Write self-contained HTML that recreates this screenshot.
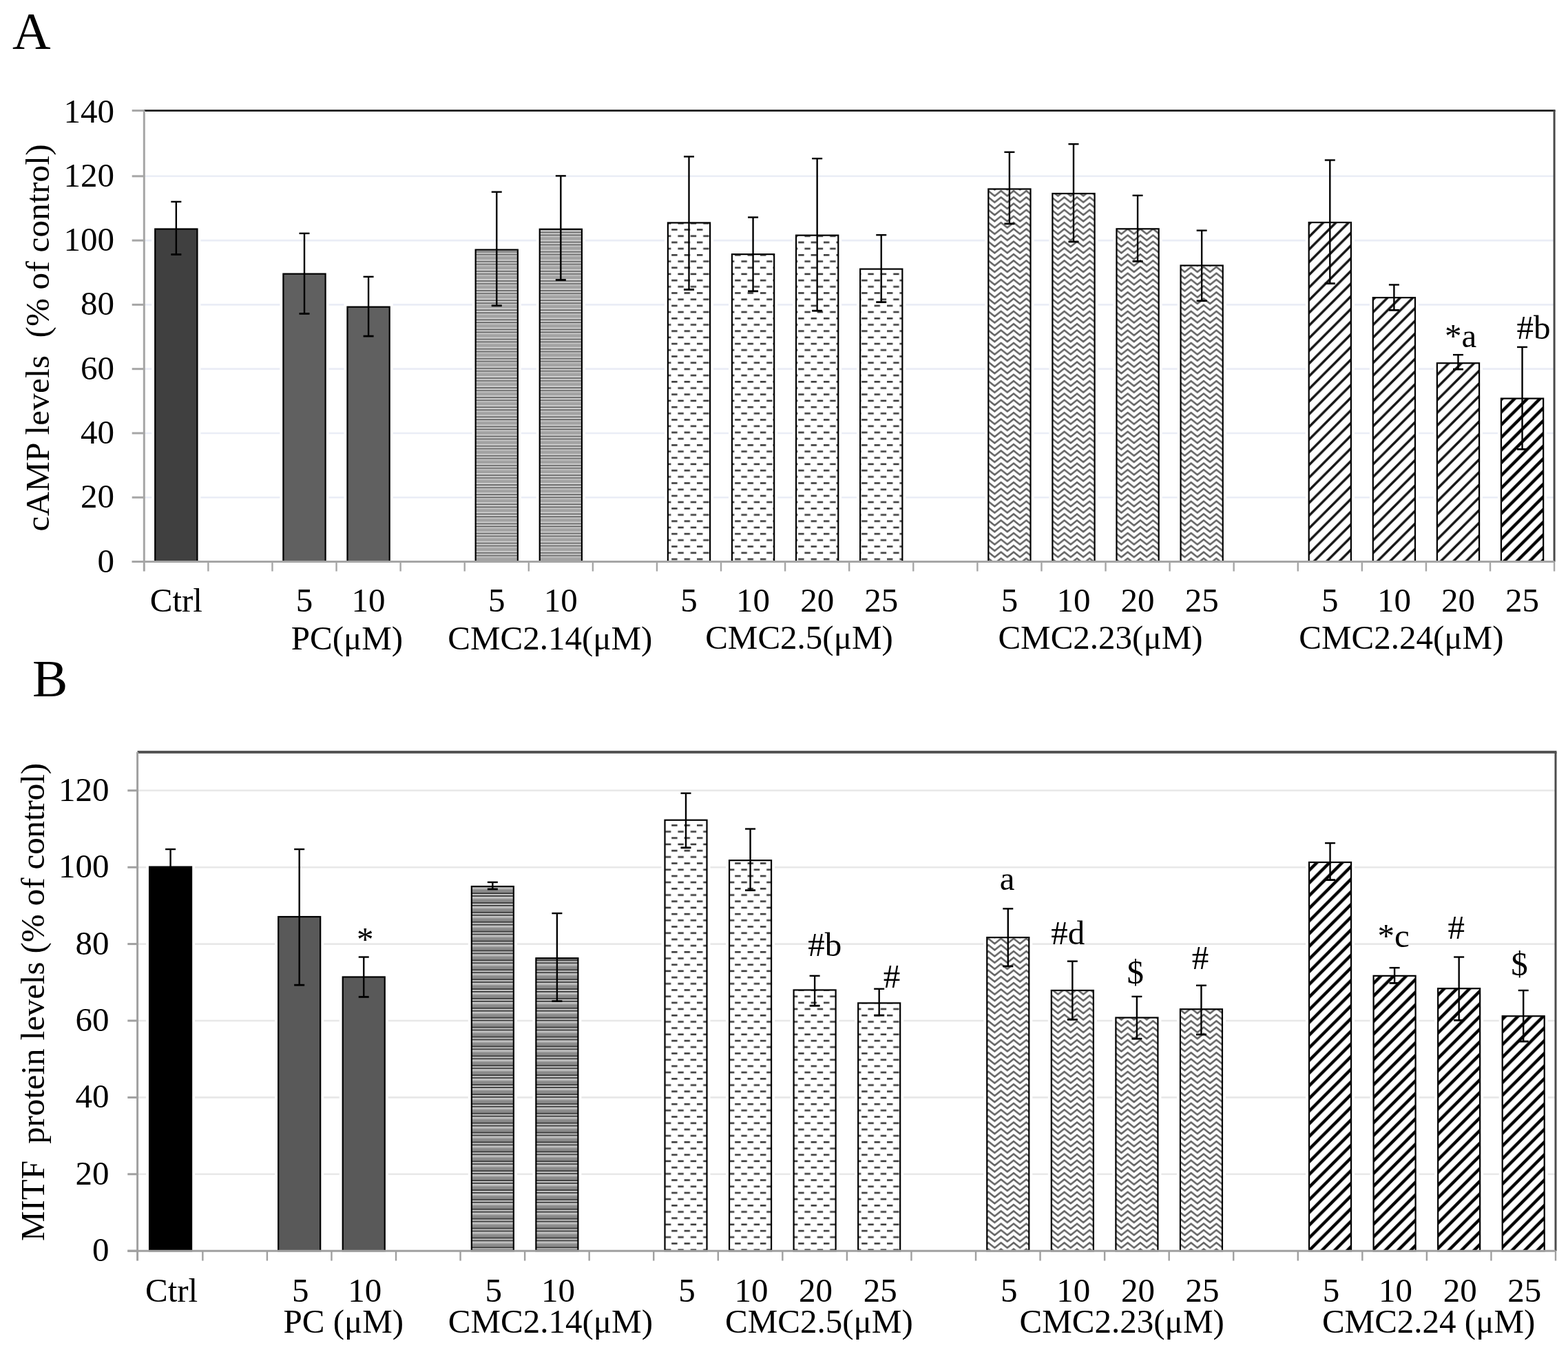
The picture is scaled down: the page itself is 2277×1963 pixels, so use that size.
<!DOCTYPE html><html><head><meta charset="utf-8"><title>cAMP and MITF levels</title>
<style>html,body{margin:0;padding:0;background:#fff;}body{width:2277px;height:1963px;overflow:hidden;}svg{display:block;}text{font-family:"Liberation Serif","Times New Roman",serif;font-size:49px;fill:#000;}</style></head><body>
<svg width="2277" height="1963" viewBox="0 0 2277 1963">
<defs>
<pattern id="hA" patternUnits="userSpaceOnUse" patternTransform="translate(0,-2.9)" width="14.1" height="14.1"><rect width="14.1" height="14.1" fill="#a2a2a2"/><rect y="0" width="14.1" height="0.75" fill="#dcdcdc"/><rect y="13.35" width="14.1" height="0.75" fill="#dcdcdc"/><rect y="1.2" width="14.1" height="1.4" fill="#5e5e5e"/><rect y="3.3" width="14.1" height="1.4" fill="#dcdcdc"/><rect y="5.3" width="14.1" height="1.4" fill="#5e5e5e"/><rect y="6.7" width="14.1" height="2.2" fill="#c0c0c0"/></pattern>
<pattern id="hB" patternUnits="userSpaceOnUse" patternTransform="translate(0,-3.6)" width="13.9" height="13.9"><rect width="13.9" height="13.9" fill="#8a8a8a"/><rect y="0" width="13.9" height="0.8" fill="#d6d6d6"/><rect y="13.1" width="13.9" height="0.8" fill="#d6d6d6"/><rect y="0.8" width="13.9" height="1.6" fill="#b0b0b0"/><rect y="7.2" width="13.9" height="1.5" fill="#2c2c2c"/><rect y="9.1" width="13.9" height="1.6" fill="#d2d2d2"/><rect y="11.1" width="13.9" height="1.4" fill="#2c2c2c"/></pattern>
<pattern id="dash" patternUnits="userSpaceOnUse" width="18.4" height="18.4"><rect width="18.4" height="18.4" fill="#fff"/><rect x="0" y="1" width="8.4" height="2.6" fill="#3c3c3c"/><rect x="9.2" y="10.2" width="8.4" height="2.6" fill="#3c3c3c"/></pattern>
<pattern id="zig" patternUnits="userSpaceOnUse" width="18.4" height="9.2"><rect width="18.4" height="9.2" fill="#fff"/><path d="M-9.2,8.6 L0,1.1 L9.2,8.6 L18.4,1.1 L27.6,8.6 M-9.2,-0.6 L0,-8.1 L9.2,-0.6 L18.4,-8.1 L27.6,-0.6 M-9.2,17.8 L0,10.3 L9.2,17.8 L18.4,10.3 L27.6,17.8" fill="none" stroke="#626262" stroke-width="2.5"/></pattern>
<pattern id="diag" patternUnits="userSpaceOnUse" width="18.4" height="18.4"><rect width="18.4" height="18.4" fill="#fff"/><path d="M-4.6,23 L23,-4.6 M-23,23 L4.6,-4.6 M13.8,23 L41.4,-4.6" stroke="#000" stroke-width="4.4"/></pattern>
<pattern id="diagA" patternUnits="userSpaceOnUse" width="18.4" height="18.4"><rect width="18.4" height="18.4" fill="#fff"/><path d="M-4.6,23 L23,-4.6 M-23,23 L4.6,-4.6 M13.8,23 L41.4,-4.6" stroke="#141414" stroke-width="3.5"/></pattern>
</defs>
<rect width="2277" height="1963" fill="#fff"/>
<text x="18" y="71" style="font-size:77px">A</text>
<text x="47" y="1011" style="font-size:77px">B</text>
<line x1="209.3" y1="722.22" x2="2257.1" y2="722.22" stroke="#eaedf6" stroke-width="2.6"/>
<line x1="209.3" y1="628.94" x2="2257.1" y2="628.94" stroke="#eaedf6" stroke-width="2.6"/>
<line x1="209.3" y1="535.66" x2="2257.1" y2="535.66" stroke="#eaedf6" stroke-width="2.6"/>
<line x1="209.3" y1="442.38" x2="2257.1" y2="442.38" stroke="#eaedf6" stroke-width="2.6"/>
<line x1="209.3" y1="349.1" x2="2257.1" y2="349.1" stroke="#eaedf6" stroke-width="2.6"/>
<line x1="209.3" y1="255.82" x2="2257.1" y2="255.82" stroke="#eaedf6" stroke-width="2.6"/>
<rect x="220.24" y="327.5" width="71.2" height="488" fill="#fff"/>
<rect x="225.24" y="332.5" width="61.2" height="483" fill="#404040" stroke="#000" stroke-width="2.2"/>
<rect x="406.4" y="392.61" width="71.2" height="422.89" fill="#fff"/>
<rect x="411.4" y="397.61" width="61.2" height="417.89" fill="#606060" stroke="#000" stroke-width="2.2"/>
<rect x="499.49" y="440.64" width="71.2" height="374.86" fill="#fff"/>
<rect x="504.49" y="445.64" width="61.2" height="369.86" fill="#606060" stroke="#000" stroke-width="2.2"/>
<rect x="685.65" y="357.63" width="71.2" height="457.87" fill="#fff"/>
<rect x="690.65" y="362.63" width="61.2" height="452.87" fill="url(#hA)" stroke="#000" stroke-width="2.2"/>
<rect x="778.73" y="327.78" width="71.2" height="487.72" fill="#fff"/>
<rect x="783.73" y="332.78" width="61.2" height="482.72" fill="url(#hA)" stroke="#000" stroke-width="2.2"/>
<rect x="964.9" y="318.45" width="71.2" height="497.05" fill="#fff"/>
<rect x="969.9" y="323.45" width="61.2" height="492.05" fill="url(#dash)" stroke="#000" stroke-width="2.2"/>
<rect x="1057.98" y="364.16" width="71.2" height="451.34" fill="#fff"/>
<rect x="1062.98" y="369.16" width="61.2" height="446.34" fill="url(#dash)" stroke="#000" stroke-width="2.2"/>
<rect x="1151.06" y="336.64" width="71.2" height="478.86" fill="#fff"/>
<rect x="1156.06" y="341.64" width="61.2" height="473.86" fill="url(#dash)" stroke="#000" stroke-width="2.2"/>
<rect x="1244.14" y="385.61" width="71.2" height="429.89" fill="#fff"/>
<rect x="1249.14" y="390.61" width="61.2" height="424.89" fill="url(#dash)" stroke="#000" stroke-width="2.2"/>
<rect x="1430.3" y="269.48" width="71.2" height="546.02" fill="#fff"/>
<rect x="1435.3" y="274.48" width="61.2" height="541.02" fill="url(#zig)" stroke="#000" stroke-width="2.2"/>
<rect x="1523.39" y="276.01" width="71.2" height="539.49" fill="#fff"/>
<rect x="1528.39" y="281.01" width="61.2" height="534.49" fill="url(#zig)" stroke="#000" stroke-width="2.2"/>
<rect x="1616.47" y="327.31" width="71.2" height="488.19" fill="#fff"/>
<rect x="1621.47" y="332.31" width="61.2" height="483.19" fill="url(#zig)" stroke="#000" stroke-width="2.2"/>
<rect x="1709.55" y="380.48" width="71.2" height="435.02" fill="#fff"/>
<rect x="1714.55" y="385.48" width="61.2" height="430.02" fill="url(#zig)" stroke="#000" stroke-width="2.2"/>
<rect x="1895.71" y="317.98" width="71.2" height="497.52" fill="#fff"/>
<rect x="1900.71" y="322.98" width="61.2" height="492.52" fill="url(#diagA)" stroke="#000" stroke-width="2.2"/>
<rect x="1988.8" y="427.12" width="71.2" height="388.38" fill="#fff"/>
<rect x="1993.8" y="432.12" width="61.2" height="383.38" fill="url(#diagA)" stroke="#000" stroke-width="2.2"/>
<rect x="2081.88" y="522.26" width="71.2" height="293.24" fill="#fff"/>
<rect x="2086.88" y="527.26" width="61.2" height="288.24" fill="url(#diagA)" stroke="#000" stroke-width="2.2"/>
<rect x="2174.96" y="573.57" width="71.2" height="241.93" fill="#fff"/>
<rect x="2179.96" y="578.57" width="61.2" height="236.93" fill="url(#diag)" stroke="#000" stroke-width="2.2"/>
<line x1="255.84" y1="292.9" x2="255.84" y2="369.48" stroke="#000" stroke-width="2.4"/>
<line x1="248.34" y1="292.9" x2="263.34" y2="292.9" stroke="#000" stroke-width="2.4"/>
<line x1="248.34" y1="369.48" x2="263.34" y2="369.48" stroke="#000" stroke-width="2.8"/>
<line x1="442" y1="338.84" x2="442" y2="455.44" stroke="#000" stroke-width="2.4"/>
<line x1="434.5" y1="338.84" x2="449.5" y2="338.84" stroke="#000" stroke-width="2.4"/>
<line x1="434.5" y1="455.44" x2="449.5" y2="455.44" stroke="#000" stroke-width="2.8"/>
<line x1="535.09" y1="401.8" x2="535.09" y2="488.09" stroke="#000" stroke-width="2.4"/>
<line x1="527.59" y1="401.8" x2="542.59" y2="401.8" stroke="#000" stroke-width="2.4"/>
<line x1="527.59" y1="488.09" x2="542.59" y2="488.09" stroke="#000" stroke-width="2.8"/>
<line x1="721.25" y1="278.67" x2="721.25" y2="443.78" stroke="#000" stroke-width="2.4"/>
<line x1="713.75" y1="278.67" x2="728.75" y2="278.67" stroke="#000" stroke-width="2.4"/>
<line x1="713.75" y1="443.78" x2="728.75" y2="443.78" stroke="#000" stroke-width="2.8"/>
<line x1="814.33" y1="255.35" x2="814.33" y2="406.47" stroke="#000" stroke-width="2.4"/>
<line x1="806.83" y1="255.35" x2="821.83" y2="255.35" stroke="#000" stroke-width="2.4"/>
<line x1="806.83" y1="406.47" x2="821.83" y2="406.47" stroke="#000" stroke-width="2.8"/>
<line x1="1000.5" y1="227.37" x2="1000.5" y2="420.46" stroke="#000" stroke-width="2.4"/>
<line x1="993" y1="227.37" x2="1008" y2="227.37" stroke="#000" stroke-width="2.4"/>
<line x1="993" y1="420.46" x2="1008" y2="420.46" stroke="#000" stroke-width="2.8"/>
<line x1="1093.58" y1="315.52" x2="1093.58" y2="422.79" stroke="#000" stroke-width="2.4"/>
<line x1="1086.08" y1="315.52" x2="1101.08" y2="315.52" stroke="#000" stroke-width="2.4"/>
<line x1="1086.08" y1="422.79" x2="1101.08" y2="422.79" stroke="#000" stroke-width="2.8"/>
<line x1="1186.66" y1="230.17" x2="1186.66" y2="451.24" stroke="#000" stroke-width="2.4"/>
<line x1="1179.16" y1="230.17" x2="1194.16" y2="230.17" stroke="#000" stroke-width="2.4"/>
<line x1="1179.16" y1="451.24" x2="1194.16" y2="451.24" stroke="#000" stroke-width="2.8"/>
<line x1="1279.74" y1="341.17" x2="1279.74" y2="438.65" stroke="#000" stroke-width="2.4"/>
<line x1="1272.24" y1="341.17" x2="1287.24" y2="341.17" stroke="#000" stroke-width="2.4"/>
<line x1="1272.24" y1="438.65" x2="1287.24" y2="438.65" stroke="#000" stroke-width="2.8"/>
<line x1="1465.9" y1="220.84" x2="1465.9" y2="324.85" stroke="#000" stroke-width="2.4"/>
<line x1="1458.4" y1="220.84" x2="1473.4" y2="220.84" stroke="#000" stroke-width="2.4"/>
<line x1="1458.4" y1="324.85" x2="1473.4" y2="324.85" stroke="#000" stroke-width="2.8"/>
<line x1="1558.99" y1="209.18" x2="1558.99" y2="350.97" stroke="#000" stroke-width="2.4"/>
<line x1="1551.49" y1="209.18" x2="1566.49" y2="209.18" stroke="#000" stroke-width="2.4"/>
<line x1="1551.49" y1="350.97" x2="1566.49" y2="350.97" stroke="#000" stroke-width="2.8"/>
<line x1="1652.07" y1="283.8" x2="1652.07" y2="379.42" stroke="#000" stroke-width="2.4"/>
<line x1="1644.57" y1="283.8" x2="1659.57" y2="283.8" stroke="#000" stroke-width="2.4"/>
<line x1="1644.57" y1="379.42" x2="1659.57" y2="379.42" stroke="#000" stroke-width="2.8"/>
<line x1="1745.15" y1="334.64" x2="1745.15" y2="436.78" stroke="#000" stroke-width="2.4"/>
<line x1="1737.65" y1="334.64" x2="1752.65" y2="334.64" stroke="#000" stroke-width="2.4"/>
<line x1="1737.65" y1="436.78" x2="1752.65" y2="436.78" stroke="#000" stroke-width="2.8"/>
<line x1="1931.31" y1="232.5" x2="1931.31" y2="411.6" stroke="#000" stroke-width="2.4"/>
<line x1="1923.81" y1="232.5" x2="1938.81" y2="232.5" stroke="#000" stroke-width="2.4"/>
<line x1="1923.81" y1="411.6" x2="1938.81" y2="411.6" stroke="#000" stroke-width="2.8"/>
<line x1="2024.4" y1="413.46" x2="2024.4" y2="450.31" stroke="#000" stroke-width="2.4"/>
<line x1="2016.9" y1="413.46" x2="2031.9" y2="413.46" stroke="#000" stroke-width="2.4"/>
<line x1="2016.9" y1="450.31" x2="2031.9" y2="450.31" stroke="#000" stroke-width="2.8"/>
<line x1="2117.48" y1="515.14" x2="2117.48" y2="536.13" stroke="#000" stroke-width="2.4"/>
<line x1="2109.98" y1="515.14" x2="2124.98" y2="515.14" stroke="#000" stroke-width="2.4"/>
<line x1="2109.98" y1="536.13" x2="2124.98" y2="536.13" stroke="#000" stroke-width="2.8"/>
<line x1="2210.56" y1="503.94" x2="2210.56" y2="652.26" stroke="#000" stroke-width="2.4"/>
<line x1="2203.06" y1="503.94" x2="2218.06" y2="503.94" stroke="#000" stroke-width="2.4"/>
<line x1="2203.06" y1="652.26" x2="2218.06" y2="652.26" stroke="#000" stroke-width="2.8"/>
<line x1="209.3" y1="160.6" x2="2258.6" y2="160.6" stroke="#1c1c1c" stroke-width="2.6"/>
<line x1="2257.1" y1="160.6" x2="2257.1" y2="815.5" stroke="#4a4a4a" stroke-width="3"/>
<line x1="191.7" y1="815.5" x2="2257.1" y2="815.5" stroke="#a6a6a6" stroke-width="3"/>
<line x1="209.3" y1="160.6" x2="209.3" y2="829.5" stroke="#a6a6a6" stroke-width="3"/>
<line x1="191.7" y1="815.5" x2="209.3" y2="815.5" stroke="#a6a6a6" stroke-width="3"/>
<line x1="191.7" y1="722.22" x2="209.3" y2="722.22" stroke="#a6a6a6" stroke-width="3"/>
<line x1="191.7" y1="628.94" x2="209.3" y2="628.94" stroke="#a6a6a6" stroke-width="3"/>
<line x1="191.7" y1="535.66" x2="209.3" y2="535.66" stroke="#a6a6a6" stroke-width="3"/>
<line x1="191.7" y1="442.38" x2="209.3" y2="442.38" stroke="#a6a6a6" stroke-width="3"/>
<line x1="191.7" y1="349.1" x2="209.3" y2="349.1" stroke="#a6a6a6" stroke-width="3"/>
<line x1="191.7" y1="255.82" x2="209.3" y2="255.82" stroke="#a6a6a6" stroke-width="3"/>
<line x1="191.7" y1="160.6" x2="209.3" y2="160.6" stroke="#a6a6a6" stroke-width="3"/>
<line x1="302.38" y1="815.5" x2="302.38" y2="829.5" stroke="#a6a6a6" stroke-width="2.4"/>
<line x1="395.46" y1="815.5" x2="395.46" y2="829.5" stroke="#a6a6a6" stroke-width="2.4"/>
<line x1="488.55" y1="815.5" x2="488.55" y2="829.5" stroke="#a6a6a6" stroke-width="2.4"/>
<line x1="581.63" y1="815.5" x2="581.63" y2="829.5" stroke="#a6a6a6" stroke-width="2.4"/>
<line x1="674.71" y1="815.5" x2="674.71" y2="829.5" stroke="#a6a6a6" stroke-width="2.4"/>
<line x1="767.79" y1="815.5" x2="767.79" y2="829.5" stroke="#a6a6a6" stroke-width="2.4"/>
<line x1="860.87" y1="815.5" x2="860.87" y2="829.5" stroke="#a6a6a6" stroke-width="2.4"/>
<line x1="953.95" y1="815.5" x2="953.95" y2="829.5" stroke="#a6a6a6" stroke-width="2.4"/>
<line x1="1047.04" y1="815.5" x2="1047.04" y2="829.5" stroke="#a6a6a6" stroke-width="2.4"/>
<line x1="1140.12" y1="815.5" x2="1140.12" y2="829.5" stroke="#a6a6a6" stroke-width="2.4"/>
<line x1="1233.2" y1="815.5" x2="1233.2" y2="829.5" stroke="#a6a6a6" stroke-width="2.4"/>
<line x1="1326.28" y1="815.5" x2="1326.28" y2="829.5" stroke="#a6a6a6" stroke-width="2.4"/>
<line x1="1419.36" y1="815.5" x2="1419.36" y2="829.5" stroke="#a6a6a6" stroke-width="2.4"/>
<line x1="1512.45" y1="815.5" x2="1512.45" y2="829.5" stroke="#a6a6a6" stroke-width="2.4"/>
<line x1="1605.53" y1="815.5" x2="1605.53" y2="829.5" stroke="#a6a6a6" stroke-width="2.4"/>
<line x1="1698.61" y1="815.5" x2="1698.61" y2="829.5" stroke="#a6a6a6" stroke-width="2.4"/>
<line x1="1791.69" y1="815.5" x2="1791.69" y2="829.5" stroke="#a6a6a6" stroke-width="2.4"/>
<line x1="1884.77" y1="815.5" x2="1884.77" y2="829.5" stroke="#a6a6a6" stroke-width="2.4"/>
<line x1="1977.85" y1="815.5" x2="1977.85" y2="829.5" stroke="#a6a6a6" stroke-width="2.4"/>
<line x1="2070.94" y1="815.5" x2="2070.94" y2="829.5" stroke="#a6a6a6" stroke-width="2.4"/>
<line x1="2164.02" y1="815.5" x2="2164.02" y2="829.5" stroke="#a6a6a6" stroke-width="2.4"/>
<line x1="2257.1" y1="815.5" x2="2257.1" y2="829.5" stroke="#a6a6a6" stroke-width="2.4"/>
<text x="166" y="830.5" text-anchor="end">0</text>
<text x="166" y="737.22" text-anchor="end">20</text>
<text x="166" y="643.94" text-anchor="end">40</text>
<text x="166" y="550.66" text-anchor="end">60</text>
<text x="166" y="457.38" text-anchor="end">80</text>
<text x="166" y="364.1" text-anchor="end">100</text>
<text x="166" y="270.82" text-anchor="end">120</text>
<text x="166" y="177.54" text-anchor="end">140</text>
<text x="255.84" y="887.7" text-anchor="middle">Ctrl</text>
<text x="442" y="887.7" text-anchor="middle">5</text>
<text x="535.09" y="887.7" text-anchor="middle">10</text>
<text x="721.25" y="887.7" text-anchor="middle">5</text>
<text x="814.33" y="887.7" text-anchor="middle">10</text>
<text x="1000.5" y="887.7" text-anchor="middle">5</text>
<text x="1093.58" y="887.7" text-anchor="middle">10</text>
<text x="1186.66" y="887.7" text-anchor="middle">20</text>
<text x="1279.74" y="887.7" text-anchor="middle">25</text>
<text x="1465.9" y="887.7" text-anchor="middle">5</text>
<text x="1558.99" y="887.7" text-anchor="middle">10</text>
<text x="1652.07" y="887.7" text-anchor="middle">20</text>
<text x="1745.15" y="887.7" text-anchor="middle">25</text>
<text x="1931.31" y="887.7" text-anchor="middle">5</text>
<text x="2024.4" y="887.7" text-anchor="middle">10</text>
<text x="2117.48" y="887.7" text-anchor="middle">20</text>
<text x="2210.56" y="887.7" text-anchor="middle">25</text>
<text x="504" y="942.8" text-anchor="middle">PC(μM)</text>
<text x="798.8" y="942.8" text-anchor="middle">CMC2.14(μM)</text>
<text x="1160.5" y="942" text-anchor="middle">CMC2.5(μM)</text>
<text x="1598" y="942" text-anchor="middle">CMC2.23(μM)</text>
<text x="2034.9" y="942" text-anchor="middle">CMC2.24(μM)</text>
<text x="2121" y="504" text-anchor="middle">*a</text>
<text x="2227" y="492" text-anchor="middle">#b</text>
<text transform="translate(71 490.4) rotate(-90)" x="0" y="0" text-anchor="middle" textLength="562" lengthAdjust="spacing" xml:space="preserve">cAMP levels  (% of control)</text>
<line x1="200.8" y1="1704.8" x2="2259" y2="1704.8" stroke="#e8e8e8" stroke-width="2.6"/>
<line x1="200.8" y1="1593.4" x2="2259" y2="1593.4" stroke="#e8e8e8" stroke-width="2.6"/>
<line x1="200.8" y1="1482" x2="2259" y2="1482" stroke="#e8e8e8" stroke-width="2.6"/>
<line x1="200.8" y1="1370.6" x2="2259" y2="1370.6" stroke="#e8e8e8" stroke-width="2.6"/>
<line x1="200.8" y1="1259.2" x2="2259" y2="1259.2" stroke="#e8e8e8" stroke-width="2.6"/>
<line x1="200.8" y1="1147.8" x2="2259" y2="1147.8" stroke="#e8e8e8" stroke-width="2.6"/>
<rect x="212.08" y="1253.64" width="71" height="562.56" fill="#fff"/>
<rect x="217.08" y="1258.64" width="61" height="557.56" fill="#000000" stroke="#000" stroke-width="2.2"/>
<rect x="399.19" y="1326.05" width="71" height="490.15" fill="#fff"/>
<rect x="404.19" y="1331.05" width="61" height="485.15" fill="#595959" stroke="#000" stroke-width="2.2"/>
<rect x="492.74" y="1413.5" width="71" height="402.7" fill="#fff"/>
<rect x="497.74" y="1418.5" width="61" height="397.7" fill="#595959" stroke="#000" stroke-width="2.2"/>
<rect x="679.85" y="1282.05" width="71" height="534.15" fill="#fff"/>
<rect x="684.85" y="1287.05" width="61" height="529.15" fill="url(#hB)" stroke="#000" stroke-width="2.2"/>
<rect x="773.4" y="1386.21" width="71" height="429.99" fill="#fff"/>
<rect x="778.4" y="1391.21" width="61" height="424.99" fill="url(#hB)" stroke="#000" stroke-width="2.2"/>
<rect x="960.51" y="1185.69" width="71" height="630.51" fill="#fff"/>
<rect x="965.51" y="1190.69" width="61" height="625.51" fill="url(#dash)" stroke="#000" stroke-width="2.2"/>
<rect x="1054.07" y="1244.17" width="71" height="572.03" fill="#fff"/>
<rect x="1059.07" y="1249.17" width="61" height="567.03" fill="url(#dash)" stroke="#000" stroke-width="2.2"/>
<rect x="1147.62" y="1432.44" width="71" height="383.76" fill="#fff"/>
<rect x="1152.62" y="1437.44" width="61" height="378.76" fill="url(#dash)" stroke="#000" stroke-width="2.2"/>
<rect x="1241.18" y="1451.38" width="71" height="364.82" fill="#fff"/>
<rect x="1246.18" y="1456.38" width="61" height="359.82" fill="url(#dash)" stroke="#000" stroke-width="2.2"/>
<rect x="1428.29" y="1356.13" width="71" height="460.07" fill="#fff"/>
<rect x="1433.29" y="1361.13" width="61" height="455.07" fill="url(#zig)" stroke="#000" stroke-width="2.2"/>
<rect x="1521.84" y="1433" width="71" height="383.2" fill="#fff"/>
<rect x="1526.84" y="1438" width="61" height="378.2" fill="url(#zig)" stroke="#000" stroke-width="2.2"/>
<rect x="1615.4" y="1472.54" width="71" height="343.66" fill="#fff"/>
<rect x="1620.4" y="1477.54" width="61" height="338.66" fill="url(#zig)" stroke="#000" stroke-width="2.2"/>
<rect x="1708.95" y="1460.29" width="71" height="355.91" fill="#fff"/>
<rect x="1713.95" y="1465.29" width="61" height="350.91" fill="url(#zig)" stroke="#000" stroke-width="2.2"/>
<rect x="1896.06" y="1246.96" width="71" height="569.24" fill="#fff"/>
<rect x="1901.06" y="1251.96" width="61" height="564.24" fill="url(#diag)" stroke="#000" stroke-width="2.2"/>
<rect x="1989.61" y="1411.83" width="71" height="404.37" fill="#fff"/>
<rect x="1994.61" y="1416.83" width="61" height="399.37" fill="url(#diag)" stroke="#000" stroke-width="2.2"/>
<rect x="2083.17" y="1430.21" width="71" height="385.99" fill="#fff"/>
<rect x="2088.17" y="1435.21" width="61" height="380.99" fill="url(#diag)" stroke="#000" stroke-width="2.2"/>
<rect x="2176.72" y="1470.32" width="71" height="345.88" fill="#fff"/>
<rect x="2181.72" y="1475.32" width="61" height="340.88" fill="url(#diag)" stroke="#000" stroke-width="2.2"/>
<line x1="247.58" y1="1233.02" x2="247.58" y2="1284.26" stroke="#000" stroke-width="2.4"/>
<line x1="240.08" y1="1233.02" x2="255.08" y2="1233.02" stroke="#000" stroke-width="2.4"/>
<line x1="240.08" y1="1284.26" x2="255.08" y2="1284.26" stroke="#000" stroke-width="2.8"/>
<line x1="434.69" y1="1233.02" x2="434.69" y2="1430.2" stroke="#000" stroke-width="2.4"/>
<line x1="427.19" y1="1233.02" x2="442.19" y2="1233.02" stroke="#000" stroke-width="2.4"/>
<line x1="427.19" y1="1430.2" x2="442.19" y2="1430.2" stroke="#000" stroke-width="2.8"/>
<line x1="528.24" y1="1389.54" x2="528.24" y2="1447.47" stroke="#000" stroke-width="2.4"/>
<line x1="520.74" y1="1389.54" x2="535.74" y2="1389.54" stroke="#000" stroke-width="2.4"/>
<line x1="520.74" y1="1447.47" x2="535.74" y2="1447.47" stroke="#000" stroke-width="2.8"/>
<line x1="715.35" y1="1280.92" x2="715.35" y2="1290.95" stroke="#000" stroke-width="2.4"/>
<line x1="707.85" y1="1280.92" x2="722.85" y2="1280.92" stroke="#000" stroke-width="2.4"/>
<line x1="707.85" y1="1290.95" x2="722.85" y2="1290.95" stroke="#000" stroke-width="2.8"/>
<line x1="808.9" y1="1326.04" x2="808.9" y2="1453.59" stroke="#000" stroke-width="2.4"/>
<line x1="801.4" y1="1326.04" x2="816.4" y2="1326.04" stroke="#000" stroke-width="2.4"/>
<line x1="801.4" y1="1453.59" x2="816.4" y2="1453.59" stroke="#000" stroke-width="2.8"/>
<line x1="996.01" y1="1151.7" x2="996.01" y2="1230.79" stroke="#000" stroke-width="2.4"/>
<line x1="988.51" y1="1151.7" x2="1003.51" y2="1151.7" stroke="#000" stroke-width="2.4"/>
<line x1="988.51" y1="1230.79" x2="1003.51" y2="1230.79" stroke="#000" stroke-width="2.8"/>
<line x1="1089.57" y1="1203.5" x2="1089.57" y2="1292.62" stroke="#000" stroke-width="2.4"/>
<line x1="1082.07" y1="1203.5" x2="1097.07" y2="1203.5" stroke="#000" stroke-width="2.4"/>
<line x1="1082.07" y1="1292.62" x2="1097.07" y2="1292.62" stroke="#000" stroke-width="2.8"/>
<line x1="1183.12" y1="1416.83" x2="1183.12" y2="1460.28" stroke="#000" stroke-width="2.4"/>
<line x1="1175.62" y1="1416.83" x2="1190.62" y2="1416.83" stroke="#000" stroke-width="2.4"/>
<line x1="1175.62" y1="1460.28" x2="1190.62" y2="1460.28" stroke="#000" stroke-width="2.8"/>
<line x1="1276.68" y1="1435.77" x2="1276.68" y2="1474.2" stroke="#000" stroke-width="2.4"/>
<line x1="1269.18" y1="1435.77" x2="1284.18" y2="1435.77" stroke="#000" stroke-width="2.4"/>
<line x1="1269.18" y1="1474.2" x2="1284.18" y2="1474.2" stroke="#000" stroke-width="2.8"/>
<line x1="1463.79" y1="1319.36" x2="1463.79" y2="1402.91" stroke="#000" stroke-width="2.4"/>
<line x1="1456.29" y1="1319.36" x2="1471.29" y2="1319.36" stroke="#000" stroke-width="2.4"/>
<line x1="1456.29" y1="1402.91" x2="1471.29" y2="1402.91" stroke="#000" stroke-width="2.8"/>
<line x1="1557.34" y1="1395.66" x2="1557.34" y2="1480.33" stroke="#000" stroke-width="2.4"/>
<line x1="1549.84" y1="1395.66" x2="1564.84" y2="1395.66" stroke="#000" stroke-width="2.4"/>
<line x1="1549.84" y1="1480.33" x2="1564.84" y2="1480.33" stroke="#000" stroke-width="2.8"/>
<line x1="1650.9" y1="1446.91" x2="1650.9" y2="1508.18" stroke="#000" stroke-width="2.4"/>
<line x1="1643.4" y1="1446.91" x2="1658.4" y2="1446.91" stroke="#000" stroke-width="2.4"/>
<line x1="1643.4" y1="1508.18" x2="1658.4" y2="1508.18" stroke="#000" stroke-width="2.8"/>
<line x1="1744.45" y1="1430.76" x2="1744.45" y2="1502.05" stroke="#000" stroke-width="2.4"/>
<line x1="1736.95" y1="1430.76" x2="1751.95" y2="1430.76" stroke="#000" stroke-width="2.4"/>
<line x1="1736.95" y1="1502.05" x2="1751.95" y2="1502.05" stroke="#000" stroke-width="2.8"/>
<line x1="1931.56" y1="1224.11" x2="1931.56" y2="1277.58" stroke="#000" stroke-width="2.4"/>
<line x1="1924.06" y1="1224.11" x2="1939.06" y2="1224.11" stroke="#000" stroke-width="2.4"/>
<line x1="1924.06" y1="1277.58" x2="1939.06" y2="1277.58" stroke="#000" stroke-width="2.8"/>
<line x1="2025.11" y1="1405.13" x2="2025.11" y2="1427.41" stroke="#000" stroke-width="2.4"/>
<line x1="2017.61" y1="1405.13" x2="2032.61" y2="1405.13" stroke="#000" stroke-width="2.4"/>
<line x1="2017.61" y1="1427.41" x2="2032.61" y2="1427.41" stroke="#000" stroke-width="2.8"/>
<line x1="2118.67" y1="1389.54" x2="2118.67" y2="1481.44" stroke="#000" stroke-width="2.4"/>
<line x1="2111.17" y1="1389.54" x2="2126.17" y2="1389.54" stroke="#000" stroke-width="2.4"/>
<line x1="2111.17" y1="1481.44" x2="2126.17" y2="1481.44" stroke="#000" stroke-width="2.8"/>
<line x1="2212.22" y1="1438" x2="2212.22" y2="1512.08" stroke="#000" stroke-width="2.4"/>
<line x1="2204.72" y1="1438" x2="2219.72" y2="1438" stroke="#000" stroke-width="2.4"/>
<line x1="2204.72" y1="1512.08" x2="2219.72" y2="1512.08" stroke="#000" stroke-width="2.8"/>
<line x1="199.6" y1="1092" x2="2260.5" y2="1092" stroke="#555555" stroke-width="3.8"/>
<line x1="2259" y1="1092" x2="2259" y2="1816.2" stroke="#4c4c4c" stroke-width="3"/>
<line x1="185.3" y1="1816.2" x2="2259" y2="1816.2" stroke="#a0a0a0" stroke-width="3"/>
<line x1="199.6" y1="1092" x2="199.6" y2="1830.5" stroke="#a0a0a0" stroke-width="3"/>
<line x1="185.3" y1="1816.2" x2="199.6" y2="1816.2" stroke="#a0a0a0" stroke-width="3"/>
<line x1="185.3" y1="1704.8" x2="199.6" y2="1704.8" stroke="#a0a0a0" stroke-width="3"/>
<line x1="185.3" y1="1593.4" x2="199.6" y2="1593.4" stroke="#a0a0a0" stroke-width="3"/>
<line x1="185.3" y1="1482" x2="199.6" y2="1482" stroke="#a0a0a0" stroke-width="3"/>
<line x1="185.3" y1="1370.6" x2="199.6" y2="1370.6" stroke="#a0a0a0" stroke-width="3"/>
<line x1="185.3" y1="1259.2" x2="199.6" y2="1259.2" stroke="#a0a0a0" stroke-width="3"/>
<line x1="185.3" y1="1147.8" x2="199.6" y2="1147.8" stroke="#a0a0a0" stroke-width="3"/>
<line x1="294.35" y1="1816.2" x2="294.35" y2="1830.5" stroke="#a0a0a0" stroke-width="2.4"/>
<line x1="387.91" y1="1816.2" x2="387.91" y2="1830.5" stroke="#a0a0a0" stroke-width="2.4"/>
<line x1="481.46" y1="1816.2" x2="481.46" y2="1830.5" stroke="#a0a0a0" stroke-width="2.4"/>
<line x1="575.02" y1="1816.2" x2="575.02" y2="1830.5" stroke="#a0a0a0" stroke-width="2.4"/>
<line x1="668.57" y1="1816.2" x2="668.57" y2="1830.5" stroke="#a0a0a0" stroke-width="2.4"/>
<line x1="762.13" y1="1816.2" x2="762.13" y2="1830.5" stroke="#a0a0a0" stroke-width="2.4"/>
<line x1="855.68" y1="1816.2" x2="855.68" y2="1830.5" stroke="#a0a0a0" stroke-width="2.4"/>
<line x1="949.24" y1="1816.2" x2="949.24" y2="1830.5" stroke="#a0a0a0" stroke-width="2.4"/>
<line x1="1042.79" y1="1816.2" x2="1042.79" y2="1830.5" stroke="#a0a0a0" stroke-width="2.4"/>
<line x1="1136.35" y1="1816.2" x2="1136.35" y2="1830.5" stroke="#a0a0a0" stroke-width="2.4"/>
<line x1="1229.9" y1="1816.2" x2="1229.9" y2="1830.5" stroke="#a0a0a0" stroke-width="2.4"/>
<line x1="1323.45" y1="1816.2" x2="1323.45" y2="1830.5" stroke="#a0a0a0" stroke-width="2.4"/>
<line x1="1417.01" y1="1816.2" x2="1417.01" y2="1830.5" stroke="#a0a0a0" stroke-width="2.4"/>
<line x1="1510.56" y1="1816.2" x2="1510.56" y2="1830.5" stroke="#a0a0a0" stroke-width="2.4"/>
<line x1="1604.12" y1="1816.2" x2="1604.12" y2="1830.5" stroke="#a0a0a0" stroke-width="2.4"/>
<line x1="1697.67" y1="1816.2" x2="1697.67" y2="1830.5" stroke="#a0a0a0" stroke-width="2.4"/>
<line x1="1791.23" y1="1816.2" x2="1791.23" y2="1830.5" stroke="#a0a0a0" stroke-width="2.4"/>
<line x1="1884.78" y1="1816.2" x2="1884.78" y2="1830.5" stroke="#a0a0a0" stroke-width="2.4"/>
<line x1="1978.34" y1="1816.2" x2="1978.34" y2="1830.5" stroke="#a0a0a0" stroke-width="2.4"/>
<line x1="2071.89" y1="1816.2" x2="2071.89" y2="1830.5" stroke="#a0a0a0" stroke-width="2.4"/>
<line x1="2165.45" y1="1816.2" x2="2165.45" y2="1830.5" stroke="#a0a0a0" stroke-width="2.4"/>
<line x1="2259" y1="1816.2" x2="2259" y2="1830.5" stroke="#a0a0a0" stroke-width="2.4"/>
<text x="158.5" y="1831.2" text-anchor="end">0</text>
<text x="158.5" y="1719.8" text-anchor="end">20</text>
<text x="158.5" y="1608.4" text-anchor="end">40</text>
<text x="158.5" y="1497" text-anchor="end">60</text>
<text x="158.5" y="1385.6" text-anchor="end">80</text>
<text x="158.5" y="1274.2" text-anchor="end">100</text>
<text x="158.5" y="1162.8" text-anchor="end">120</text>
<text x="249.08" y="1890.3" text-anchor="middle">Ctrl</text>
<text x="436.19" y="1890.3" text-anchor="middle">5</text>
<text x="529.74" y="1890.3" text-anchor="middle">10</text>
<text x="716.85" y="1890.3" text-anchor="middle">5</text>
<text x="810.4" y="1890.3" text-anchor="middle">10</text>
<text x="997.51" y="1890.3" text-anchor="middle">5</text>
<text x="1091.07" y="1890.3" text-anchor="middle">10</text>
<text x="1184.62" y="1890.3" text-anchor="middle">20</text>
<text x="1278.18" y="1890.3" text-anchor="middle">25</text>
<text x="1465.29" y="1890.3" text-anchor="middle">5</text>
<text x="1558.84" y="1890.3" text-anchor="middle">10</text>
<text x="1652.4" y="1890.3" text-anchor="middle">20</text>
<text x="1745.95" y="1890.3" text-anchor="middle">25</text>
<text x="1933.06" y="1890.3" text-anchor="middle">5</text>
<text x="2026.61" y="1890.3" text-anchor="middle">10</text>
<text x="2120.17" y="1890.3" text-anchor="middle">20</text>
<text x="2213.72" y="1890.3" text-anchor="middle">25</text>
<text x="498.8" y="1935" text-anchor="middle">PC (μM)</text>
<text x="799.4" y="1935" text-anchor="middle">CMC2.14(μM)</text>
<text x="1189.4" y="1935" text-anchor="middle">CMC2.5(μM)</text>
<text x="1629.2" y="1935" text-anchor="middle">CMC2.23(μM)</text>
<text x="2074.6" y="1935" text-anchor="middle">CMC2.24 (μM)</text>
<text x="530.3" y="1380" text-anchor="middle">*</text>
<text x="1197.8" y="1388" text-anchor="middle">#b</text>
<text x="1295" y="1434" text-anchor="middle">#</text>
<text x="1462.6" y="1292.4" text-anchor="middle">a</text>
<text x="1550.8" y="1371.1" text-anchor="middle">#d</text>
<text x="1648.8" y="1428" text-anchor="middle">$</text>
<text x="1743" y="1407" text-anchor="middle">#</text>
<text x="2023.5" y="1374.6" text-anchor="middle">*c</text>
<text x="2114.8" y="1363" text-anchor="middle">#</text>
<text x="2206.5" y="1415.5" text-anchor="middle">$</text>
<text transform="translate(63.5 1454.9) rotate(-90)" x="0" y="0" text-anchor="middle" textLength="694" lengthAdjust="spacing" xml:space="preserve">MITF  protein levels (% of control)</text>
</svg></body></html>
